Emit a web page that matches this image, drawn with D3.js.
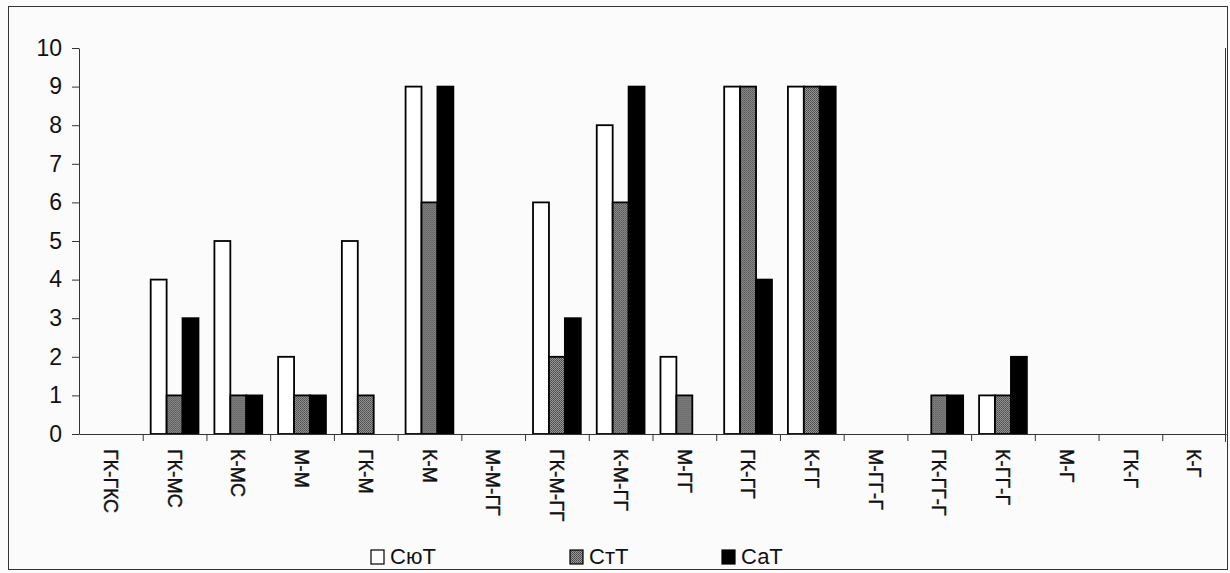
<!DOCTYPE html>
<html>
<head>
<meta charset="utf-8">
<script src="https://cdn.jsdelivr.net/npm/d3@7"></script>
<style>
  body { margin: 0; background: #fbfbfb; }
  svg { display: block; font-family: "Liberation Sans", Arial, sans-serif; }
</style>
</head>
<body>
<div id="chart"></div>
<script>
const categories = ['ГК-ГКС', 'ГК-МС', 'К-МС', 'М-М', 'ГК-М', 'К-М', 'М-М-ГГ', 'ГК-М-ГГ', 'К-М-ГГ',
  'М-ГГ', 'ГК-ГГ', 'К-ГГ', 'М-ГГ-Г', 'ГК-ГГ-Г', 'К-ГГ-Г', 'М-Г', 'ГК-Г', 'К-Г'];
const seriesNames = ['СюТ', 'СтТ', 'СаТ'];
const syutValues = [0, 4, 5, 2, 5, 9, 0, 6, 8, 2, 9, 9, 0, 0, 1, 0, 0, 0];
const sttValues  = [0, 1, 1, 1, 1, 6, 0, 2, 6, 1, 9, 9, 0, 1, 1, 0, 0, 0];
const satValues  = [0, 3, 1, 1, 0, 9, 0, 3, 9, 0, 4, 9, 0, 1, 2, 0, 0, 0];
const yTicks = [0, 1, 2, 3, 4, 5, 6, 7, 8, 9, 10];

const W = 1230, H = 573;
const margin = { left: 79, right: 4, top: 48, bottom: 139 };

const svg = d3.select('#chart').append('svg')
  .attr('width', W)
  .attr('height', H);

// штриховка для СтТ
const defs = svg.append('defs');
const pat = defs.append('pattern')
  .attr('id', 'hatch')
  .attr('patternUnits', 'userSpaceOnUse')
  .attr('width', 2).attr('height', 2);
pat.append('rect').attr('width', 2).attr('height', 2).attr('fill', '#9a9a9a');
pat.append('rect').attr('width', 1).attr('height', 1).attr('fill', '#444');
pat.append('rect').attr('x', 1).attr('y', 1).attr('width', 1).attr('height', 1).attr('fill', '#555');

// внешняя рамка
svg.append('rect')
  .attr('x', 8.5).attr('y', 6.5)
  .attr('width', 1219).attr('height', 563)
  .attr('fill', '#fbfbfb')
  .attr('stroke', '#333')
  .attr('stroke-width', 1);

const x = d3.scaleBand()
  .domain(categories)
  .range([margin.left, W - margin.right]);

const y = d3.scaleLinear()
  .domain([0, 10])
  .range([H - margin.bottom, margin.top]);

const sub = d3.scaleBand()
  .domain(seriesNames)
  .range([0, x.bandwidth()])
  .paddingOuter(0.5)
  .paddingInner(0);

const fills = ['#ffffff', 'url(#hatch)', '#000000'];
const data = categories.map((c, i) => ({
  cat: c,
  vals: [syutValues[i], sttValues[i], satValues[i]]
}));

// правая граница области построения
svg.append('line')
  .attr('x1', W - margin.right - 0.5).attr('x2', W - margin.right - 0.5)
  .attr('y1', margin.top).attr('y2', y(0) + 8)
  .attr('stroke', '#333');

// столбцы
const groups = svg.append('g')
  .selectAll('g')
  .data(data)
  .join('g')
  .attr('transform', d => `translate(${x(d.cat)},0)`);

groups.selectAll('rect')
  .data(d => d.vals.map((v, k) => ({ v, k })).filter(e => e.v > 0))
  .join('rect')
  .attr('x', e => sub(seriesNames[e.k]))
  .attr('y', e => y(e.v))
  .attr('width', sub.bandwidth())
  .attr('height', e => y(0) - y(e.v))
  .attr('fill', e => fills[e.k])
  .attr('stroke', '#000')
  .attr('stroke-width', 1.8);

// ось Y
const yAxis = svg.append('g')
  .attr('transform', `translate(${margin.left},0)`)
  .call(d3.axisLeft(y).tickValues(yTicks).tickSize(7).tickPadding(10).tickSizeOuter(0));
yAxis.select('.domain').attr('stroke', '#333');
yAxis.selectAll('line').attr('stroke', '#333');
yAxis.selectAll('text')
  .attr('font-size', 23)
  .attr('fill', '#111');

// ось X
const xAxis = svg.append('g')
  .attr('transform', `translate(0,${y(0)})`)
  .call(d3.axisBottom(x).tickSize(0).tickSizeOuter(0));
xAxis.select('.domain').attr('stroke', '#333');
xAxis.selectAll('.tick text')
  .attr('font-size', 19.5)
  .attr('fill', '#111')
  .attr('stroke', '#111')
  .attr('stroke-width', 0.4)
  .attr('transform', 'rotate(90)')
  .attr('text-anchor', 'start')
  .attr('dy', '0.35em')
  .attr('x', 15)
  .attr('y', 0);

// засечки на границах категорий
svg.append('g')
  .selectAll('line')
  .data(categories.slice(1))
  .join('line')
  .attr('x1', d => x(d) + 0.5).attr('x2', d => x(d) + 0.5)
  .attr('y1', y(0)).attr('y2', y(0) + 7)
  .attr('stroke', '#333');

// легенда
const legendX = [371, 570, 722];
const legend = svg.append('g')
  .selectAll('g')
  .data(seriesNames)
  .join('g')
  .attr('transform', (d, i) => `translate(${legendX[i]},556)`);

legend.append('rect')
  .attr('x', 0).attr('y', -6)
  .attr('width', 13).attr('height', 14)
  .attr('fill', (d, i) => fills[i])
  .attr('stroke', '#000')
  .attr('stroke-width', 1.2);

legend.append('text')
  .attr('x', 19).attr('y', 0)
  .attr('dy', '0.36em')
  .attr('font-size', 22)
  .attr('fill', '#111')
  .text(d => d);
</script>
</body>
</html>
